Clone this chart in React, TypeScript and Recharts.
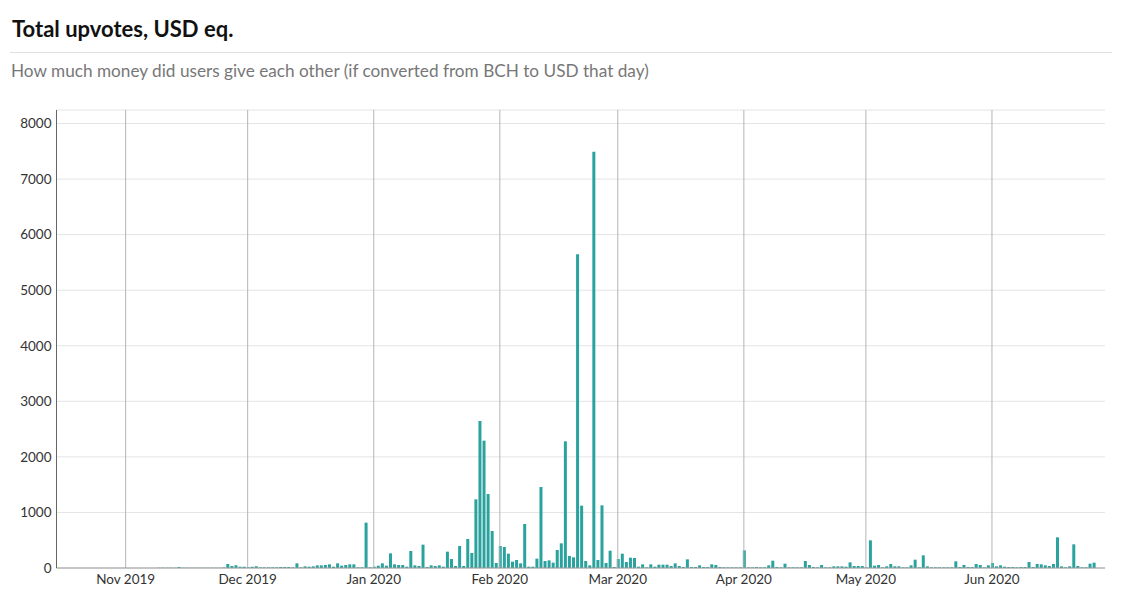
import { BarChart, Bar, XAxis, YAxis, CartesianGrid, ReferenceLine } from 'recharts'

// daily upvote totals in USD, one array per month (index 0 = 1st of month)
const nov2019 = [
  0, 0, 0, 0, 0, 0, 0, 0, 3, 4, 3, 5, 4, 16, 5, 4, 6, 5, 4, 6, 5, 4, 6, 5, 8, 72,
  36, 48, 24, 24,
]
const dec2019 = [
  12, 24, 30, 12, 12, 12, 12, 12, 18, 18, 18, 12, 84, 12, 30, 24, 30, 48, 48, 54,
  66, 24, 84, 42, 54, 66, 66, 12, 12, 816, 12,
]
const jan2020 = [
  24, 42, 84, 42, 264, 66, 54, 54, 24, 306, 48, 36, 420, 18, 48, 36, 48, 24, 294,
  162, 36, 396, 36, 522, 270, 1236, 2646, 2292, 1332, 666, 90,
]
const feb2020 = [
  396, 378, 258, 114, 144, 84, 792, 24, 24, 168, 1458, 126, 138, 96, 324, 444,
  2280, 216, 192, 5646, 1122, 126, 48, 7494, 144, 1128, 90, 312, 18,
]
const mar2020 = [
  162, 258, 108, 186, 180, 24, 66, 12, 66, 24, 60, 60, 60, 36, 84, 36, 18, 156,
  18, 18, 48, 18, 18, 66, 54, 18, 12, 12, 12, 12, 12,
]
const apr2020 = [
  318, 12, 12, 18, 12, 12, 48, 132, 18, 12, 78, 12, 12, 12, 12, 126, 54, 18, 12,
  54, 12, 12, 30, 30, 30, 24, 102, 36, 36, 36,
]
const may2020 = [
  12, 498, 42, 54, 12, 30, 72, 30, 30, 12, 12, 48, 150, 12, 228, 30, 12, 12, 12,
  12, 12, 12, 120, 18, 54, 18, 18, 72, 54, 12, 48,
]
const jun2020 = [
  90, 30, 48, 24, 18, 18, 12, 18, 18, 108, 18, 72, 66, 48, 36, 72, 552, 30, 12,
  30, 426, 36, 12, 12, 78, 96,
]

const monthStarts = [
  [2019, 10],
  [2019, 11],
  [2020, 0],
  [2020, 1],
  [2020, 2],
  [2020, 3],
  [2020, 4],
  [2020, 5],
]
const monthLabels = [
  'Nov 2019',
  'Dec 2019',
  'Jan 2020',
  'Feb 2020',
  'Mar 2020',
  'Apr 2020',
  'May 2020',
  'Jun 2020',
]
const monthValues = [nov2019, dec2019, jan2020, feb2020, mar2020, apr2020, may2020, jun2020]
const yTicks = [0, 1000, 2000, 3000, 4000, 5000, 6000, 7000, 8000]

const data = monthValues.flatMap((values, m) =>
  values.map((usd, i) => ({
    day: Date.UTC(monthStarts[m][0], monthStarts[m][1], i + 1),
    usd,
  }))
)
const xTicks = monthStarts.map(([y, m]) => Date.UTC(y, m, 1))
const xDomain = [Date.UTC(2019, 9, 15), Date.UTC(2020, 5, 28, 19)]
const yMax = Math.max(...data.map((d) => d.usd)) * 1.1

const tickStyle = { fontSize: 13.5, fill: '#333', fontFamily: 'Lato' }

export default function App() {
  return (
    <div
      style={{
        position: 'absolute',
        left: 0,
        top: 0,
        width: 1140,
        height: 602,
        background: '#fff',
        fontFamily: 'Lato, sans-serif',
      }}
    >
      <div
        style={{
          position: 'absolute',
          left: 12,
          top: 16,
          fontSize: 22,
          lineHeight: '26px',
          fontWeight: 700,
          color: '#111',
        }}
      >
        Total upvotes, USD eq.
      </div>
      <div
        style={{
          position: 'absolute',
          left: 10,
          top: 52,
          width: 1102,
          height: 1,
          background: '#e0e0e0',
        }}
      />
      <div
        style={{
          position: 'absolute',
          left: 11,
          top: 60.5,
          fontSize: 17.2,
          lineHeight: '20px',
          color: '#777',
        }}
      >
        How much money did users give each other (if converted from BCH to USD that day)
      </div>

      <div style={{ position: 'absolute', left: 0, top: 0 }}>
        <BarChart
          width={1140}
          height={602}
          data={data}
          margin={{ top: 110, right: 35, left: 0, bottom: 10 }}
        >
          <CartesianGrid vertical={false} stroke="#e4e4e4" />
          {xTicks.map((t) => (
            <ReferenceLine key={t} x={t} stroke="#b5b5b5" />
          ))}
          <XAxis
            dataKey="day"
            type="number"
            domain={xDomain}
            ticks={xTicks}
            tickFormatter={(v) => monthLabels[xTicks.indexOf(v)]}
            tick={tickStyle}
            tickLine={false}
            tickSize={0}
            tickMargin={6}
            height={24}
            stroke="#999"
            allowDataOverflow
          />
          <YAxis
            type="number"
            domain={[0, yMax]}
            ticks={yTicks}
            tick={tickStyle}
            tickLine={false}
            tickSize={0}
            tickMargin={5}
            width={56.5}
            stroke="#666"
            allowDataOverflow
          />
          <Bar dataKey="usd" fill="#2aa39f" barSize={3} isAnimationActive={false} />
        </BarChart>
      </div>
    </div>
  )
}
